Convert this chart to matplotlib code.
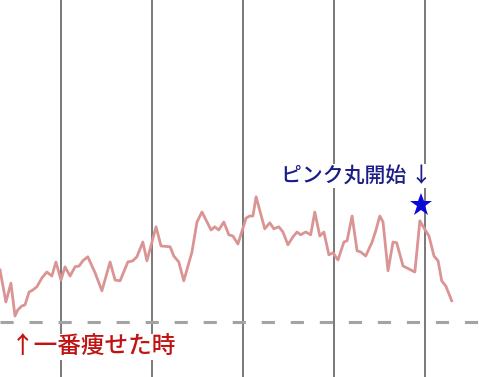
import matplotlib.pyplot as plt

plt.rcParams['font.family'] = ['Noto Sans CJK JP', 'DejaVu Sans']

# days from first month line, and weight (kg)
days = [-13.4, -12.1, -11.0, -10.1, -9.5, -8.6, -7.9, -7.0, -6.2, -5.3,
        -4.2, -3.1, -2.0, -1.1, 0.0, 0.9, 2.0, 3.1, 4.0, 4.8,
        5.9, 7.5, 9.0, 10.8, 11.9, 13.0, 14.7, 15.8, 16.7, 18.0,
        18.9, 20.9, 22.0, 24.0, 24.8, 25.9, 27.0, 28.8, 29.9, 31.0,
        33.0, 33.8, 34.7, 35.8, 36.9, 37.8, 38.9, 40.7, 41.5, 42.2,
        42.9, 44.8, 45.9, 46.8, 47.9, 48.8, 49.9, 51.0, 51.9, 52.7,
        53.8, 54.9, 55.8, 56.9, 57.8, 58.9, 59.8, 60.9, 62.2, 62.9,
        64.0, 65.1, 65.9, 67.0, 68.4, 69.2, 70.1, 70.8, 71.9, 73.0,
        73.8, 75.2, 77.8, 78.9, 79.8, 80.9, 82.0, 82.9, 83.7, 84.6,
        85.9]
weight = [49.30, 48.50, 48.97, 48.15, 48.30, 48.40, 48.43, 48.75, 48.80, 48.88,
          49.10, 49.25, 49.15, 49.50, 49.05, 49.38, 49.15, 49.38, 49.40, 49.53,
          49.63, 49.23, 48.78, 49.50, 49.05, 49.03, 49.50, 49.53, 49.63, 50.00,
          49.53, 50.38, 49.90, 49.88, 49.65, 49.50, 49.03, 49.75, 50.50, 50.75,
          50.30, 50.38, 50.30, 50.50, 50.18, 50.15, 49.95, 50.60, 50.65, 50.65,
          51.13, 50.33, 50.48, 50.33, 50.38, 50.25, 49.93, 50.13, 50.25, 50.18,
          50.25, 50.18, 50.75, 50.15, 50.25, 49.68, 49.73, 49.55, 50.00, 50.03,
          50.65, 49.78, 49.75, 49.65, 50.00, 50.28, 50.65, 50.50, 49.28, 50.00,
          49.98, 49.40, 49.25, 50.53, 50.35, 50.15, 49.65, 49.53, 49.03, 48.90,
          48.53]

month_lines = [0, 20, 40, 60, 80]
min_weight = 48.0
star_day, star_weight = 79.1, 50.93

fig = plt.figure(figsize=(4.79, 3.77), dpi=100)
ax = fig.add_axes([0, 0, 1, 1])
ax.set_xlim(-13.4, 91.9)
ax.set_ylim(46.625, 56.05)
ax.axis('off')

for d in month_lines:
    ax.axvline(d, color='#6e6e6e', lw=1.3, zorder=1)

ax.axhline(min_weight, color='#a3a3a3', lw=2.2, dashes=(4.3, 5.2), zorder=2)

ax.plot(days, weight, color='#da9494', lw=2.0, zorder=3)
ax.plot(star_day, star_weight, marker='*', ms=17, color='#0a0ad8',
        markeredgewidth=0, zorder=4)

ax.text(64.9, 51.65, 'ピンク丸開始 ↓', color='#1c1c86', fontsize=15,
        fontweight='medium', ha='center', va='center', zorder=5,
        bbox=dict(facecolor='white', edgecolor='none', pad=1))
ax.text(-11.1, 47.375, '↑一番痩せた時', color='#c01414', fontsize=17,
        fontweight='medium', ha='left', va='center', zorder=5,
        bbox=dict(facecolor='white', edgecolor='none', pad=1))

fig.savefig('out.png', dpi=100)
